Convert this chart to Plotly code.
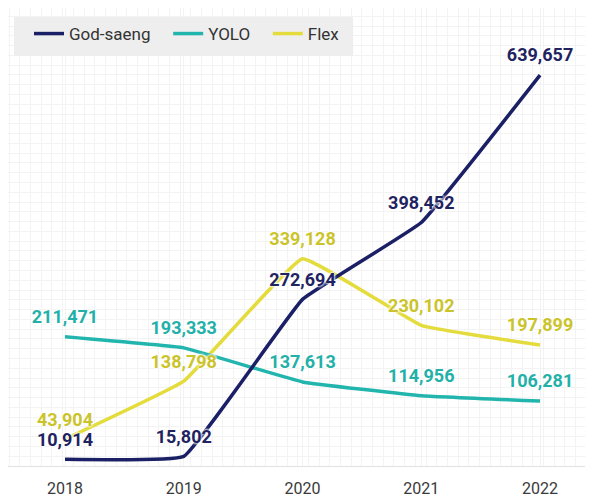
import plotly.graph_objects as go

years = [2018, 2019, 2020, 2021, 2022]
god_saeng = [10914, 15802, 272694, 398452, 639657]
yolo = [211471, 193333, 137613, 114956, 106281]
flex = [43904, 138798, 339128, 230102, 197899]

series = [
    ("God-saeng", god_saeng, "#1b1f66", "#1f2361", 1),
    ("YOLO", yolo, "#22b5ad", "#22b0a8", 2),
    ("Flex", flex, "#e4dc3c", "#cbc32a", 3),
]

NB = "\u00a0"
fig = go.Figure()

# lines (Flex drawn first, navy last)
for name, vals, col, tcol, rank in reversed(series):
    fig.add_trace(go.Scatter(
        x=years, y=vals, name=name + (NB * 3 if rank < 3 else ""), mode="lines",
        line=dict(color=col, width=3.5, shape="spline", smoothing=0.25),
        legendrank=rank, hoverinfo="skip",
    ))

# value labels on top
for name, vals, col, tcol, rank in series:
    fig.add_trace(go.Scatter(
        x=years, y=vals, mode="markers+text", showlegend=False,
        marker=dict(size=13, opacity=0),
        text=[f"{v:,}" for v in vals], textposition="top center",
        textfont=dict(family="Roboto", size=18, color=tcol, weight=700,
                      shadow="0px 0px 3px #ffffff, 0px 0px 3px #ffffff, 0px 0px 2px #ffffff"),
        hoverinfo="skip",
    ))

fig.update_layout(
    width=585, height=492,
    margin=dict(l=0, r=7, t=0, b=34, autoexpand=False),
    paper_bgcolor="white", plot_bgcolor="white",
    font=dict(family="Roboto", color="#333333"),
    legend=dict(
        orientation="h", x=0.0363, y=0.9825, xanchor="left", yanchor="top",
        bgcolor="rgba(0,0,0,0)", borderwidth=0,
        font=dict(family="Roboto", size=17, color="#333333", weight=400),
    ),
    showlegend=True,
    shapes=[dict(type="rect", xref="paper", yref="paper",
                 x0=0.0104, x1=0.597, y0=0.8951, y1=0.9803,
                 fillcolor="#eeeeee", line=dict(width=0), layer="above")],
)
fig.update_xaxes(
    range=[2017.52, 2022.387], tickmode="array", tickvals=years,
    ticktext=[str(y) for y in years],
    tickfont=dict(family="Roboto", size=16, color="#3a3a3a"),
    ticks="outside", ticklen=8, tickcolor="rgba(0,0,0,0)",
    showgrid=True, gridcolor="#f3f3f3", gridwidth=1,
    zeroline=False, showline=True, linecolor="#e2e2e2", linewidth=1, mirror=True,
    automargin=False, fixedrange=True,
)
fig.update_yaxes(
    range=[0, 749500], showticklabels=False, ticks="",
    dtick=16000, showgrid=True, gridcolor="#f3f3f3", gridwidth=1,
    zeroline=False, showline=True, linecolor="#e2e2e2", linewidth=1, mirror=True,
    automargin=False, fixedrange=True,
)
# finer vertical grid for the faint squared background
fig.update_xaxes(minor=dict(dtick=0.09, showgrid=True, gridcolor="#f3f3f3", gridwidth=1))

fig.write_html("out.html")
